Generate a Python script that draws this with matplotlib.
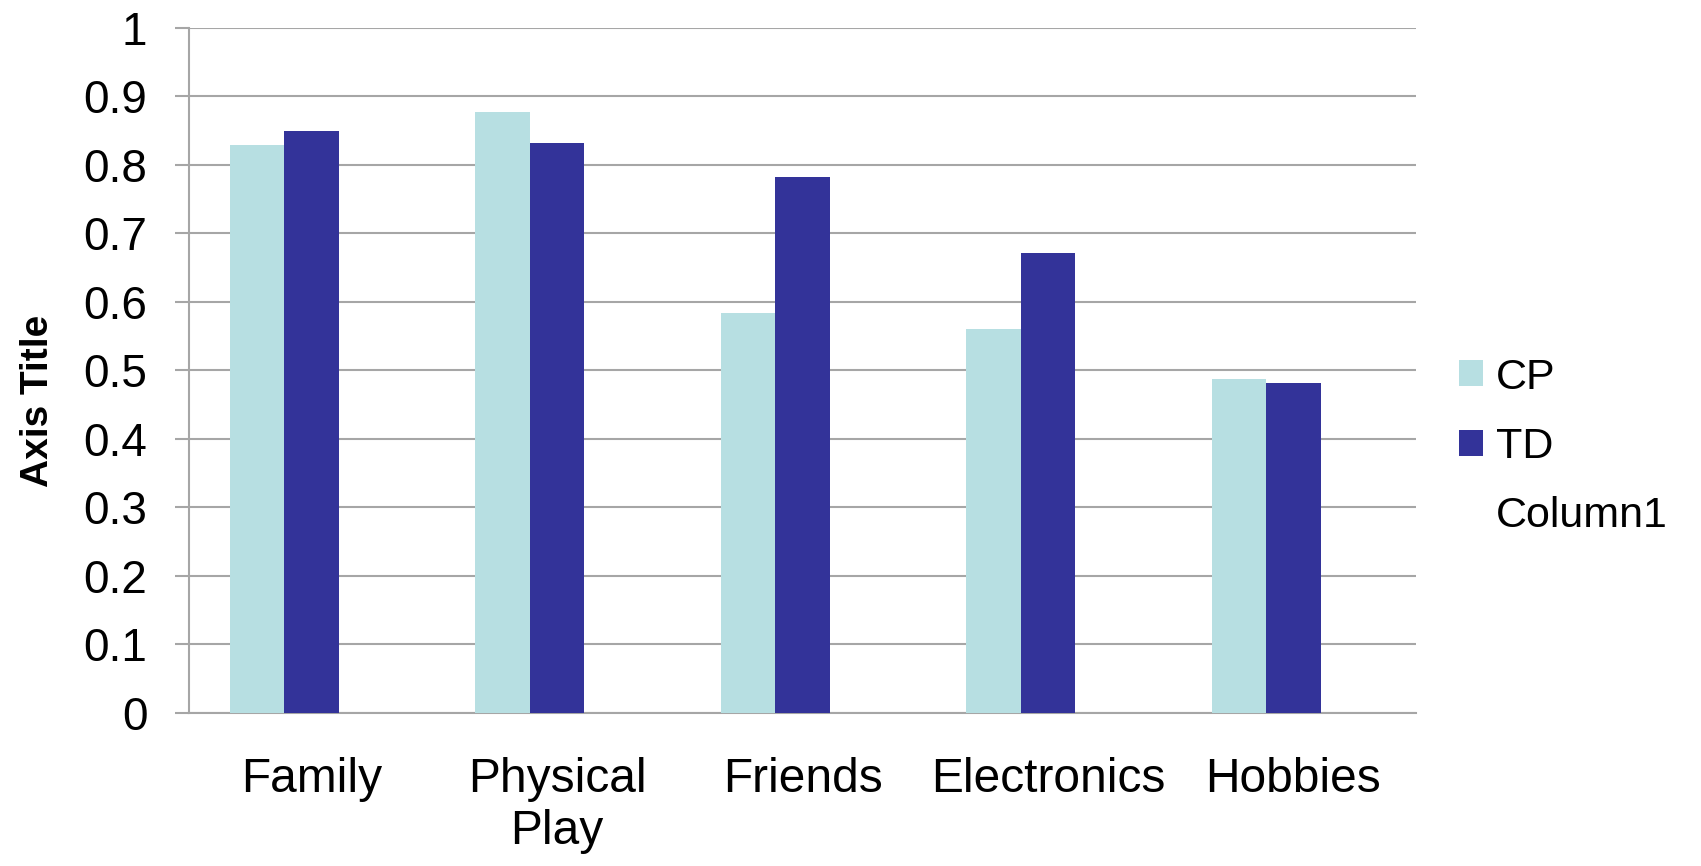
import numpy as np
import matplotlib
matplotlib.use('Agg')
import matplotlib.pyplot as plt
from matplotlib.patches import Patch

plt.rcParams['font.family'] = ['Liberation Sans', 'DejaVu Sans']

categories = ['Family', 'Physical\nPlay', 'Friends', 'Electronics', 'Hobbies']
cp = [0.829, 0.877, 0.584, 0.560, 0.487]
td = [0.850, 0.832, 0.782, 0.671, 0.482]
column1 = [np.nan] * 5          # empty third series, keeps its slot in each group
series_names = ['CP', 'TD', 'Column1']
yticks = [0, 0.1, 0.2, 0.3, 0.4, 0.5, 0.6, 0.7, 0.8, 0.9, 1]
ytick_labels = ['0', '0.1', '0.2', '0.3', '0.4', '0.5', '0.6', '0.7', '0.8', '0.9', '1']

cp_color = '#b7dfe2'
td_color = '#333399'
grid_color = '#a6a6a6'

fig = plt.figure(figsize=(17.01, 8.66), dpi=100)
ax = fig.add_axes([0.1111, 0.1767, 0.7214, 0.7910])

x = np.arange(len(categories))
w = 1 / 4.5
ax.bar(x - w, cp, w, color=cp_color, zorder=3)
ax.bar(x, td, w, color=td_color, zorder=3)
ax.bar(x + w, column1, w, color='none', zorder=3)

ax.set_xlim(-0.5, len(categories) - 0.5)
ax.set_ylim(0, 1)
ax.set_yticks(yticks)
ax.set_yticklabels(ytick_labels)
ax.set_xticks(x)
ax.set_xticklabels(categories)

ax.yaxis.grid(True, color=grid_color, linewidth=1.5, zorder=0)
ax.set_axisbelow(True)
for s in ['top', 'right']:
    ax.spines[s].set_visible(False)
for s in ['left', 'bottom']:
    ax.spines[s].set_color(grid_color)
    ax.spines[s].set_linewidth(1.5)

ax.tick_params(axis='y', length=10, width=1.5, color=grid_color, pad=20, labelsize=33)
ax.tick_params(axis='x', length=0, pad=32, labelsize=34.5)

ax.set_ylabel('Axis Title', fontsize=28, fontweight='bold')
ax.yaxis.set_label_coords(-0.108, 0.455)

handles = [Patch(facecolor=cp_color, edgecolor='none'),
           Patch(facecolor=td_color, edgecolor='none'),
           Patch(facecolor='none', edgecolor='none')]
fig.legend(handles, series_names, loc='center left', bbox_to_anchor=(0.858, 0.484),
           frameon=False, fontsize=31, handlelength=0.55, handleheight=0.55,
           handletextpad=0.3, labelspacing=0.68, borderpad=0, borderaxespad=0)

fig.savefig('out.png', dpi=100)
